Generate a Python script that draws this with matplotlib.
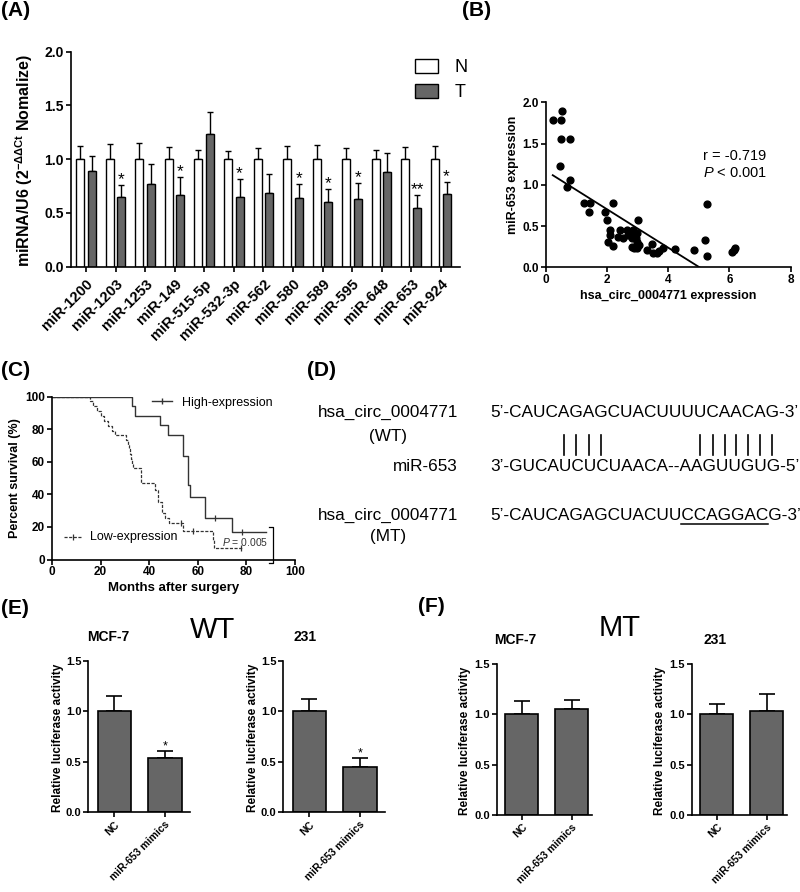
import matplotlib
matplotlib.use('Agg')
import matplotlib.pyplot as plt
from matplotlib.lines import Line2D
from matplotlib.patches import Patch
from matplotlib.font_manager import FontProperties
from matplotlib.ticker import FormatStrFormatter

plt.rcParams['font.family'] = ['Liberation Sans', 'DejaVu Sans']
plt.rcParams['mathtext.fontset'] = 'custom'
plt.rcParams['mathtext.rm'] = 'Liberation Sans'
plt.rcParams['mathtext.it'] = 'Liberation Sans:italic'
plt.rcParams['mathtext.bf'] = 'Liberation Sans:bold'
plt.rcParams['axes.linewidth'] = 1.2

W, H = 800, 892

############################################################
# (A) miRNA expression, N vs T
mirnas = ['miR-1200', 'miR-1203', 'miR-1253', 'miR-149', 'miR-515-5p', 'miR-532-3p',
          'miR-562', 'miR-580', 'miR-589', 'miR-595', 'miR-648', 'miR-653', 'miR-924']
n_mean = [1.0, 1.0, 1.0, 1.0, 1.0, 1.0, 1.0, 1.0, 1.0, 1.0, 1.0, 1.0, 1.0]
n_err = [0.12, 0.14, 0.15, 0.11, 0.09, 0.08, 0.10, 0.12, 0.13, 0.10, 0.09, 0.11, 0.12]
t_mean = [0.89, 0.65, 0.77, 0.67, 1.23, 0.65, 0.69, 0.64, 0.60, 0.63, 0.88, 0.55, 0.68]
t_err = [0.14, 0.11, 0.19, 0.16, 0.21, 0.17, 0.17, 0.13, 0.12, 0.15, 0.18, 0.12, 0.11]
t_sig = ['', '*', '', '*', '', '*', '', '*', '*', '*', '', '**', '*']

# (B) correlation scatter
circ_x = [0.23, 0.50, 0.53, 0.50, 0.79, 0.48, 0.79, 0.69, 1.25, 1.45, 1.41, 1.92, 2.19,
          2.00, 3.01, 2.10, 2.10, 2.02, 2.21, 2.43, 2.35, 2.54, 2.64, 2.70, 2.81, 2.86,
          2.89, 2.95, 2.97, 2.99, 2.88, 2.81, 3.06, 2.99, 3.30, 3.46, 3.49, 3.62, 3.71,
          3.82, 4.22, 4.85, 5.20, 5.28, 5.26, 6.07, 6.15, 6.18]
mir_y = [1.79, 1.79, 1.90, 1.56, 1.56, 1.23, 1.06, 0.97, 0.78, 0.78, 0.67, 0.67, 0.78,
         0.57, 0.57, 0.45, 0.39, 0.31, 0.26, 0.45, 0.37, 0.35, 0.45, 0.39, 0.35, 0.45,
         0.41, 0.36, 0.31, 0.23, 0.23, 0.25, 0.27, 0.41, 0.21, 0.28, 0.17, 0.17, 0.20,
         0.23, 0.22, 0.21, 0.33, 0.77, 0.14, 0.19, 0.21, 0.23]
fit_slope = -0.233
fit_intercept = 1.17
fit_range = [0.23, 5.03]

# (C) Kaplan-Meier
high_t = [0, 33, 34, 44.4, 47.8, 54, 56, 56.7, 62.9, 73.9, 88]
high_s = [100, 94.1, 88.2, 82.4, 76.5, 63.7, 45.6, 38.4, 25.2, 17, 17]
high_cens_t = [67, 78]
high_cens_s = [25.2, 17]
low_t = [0, 15.5, 17, 18.5, 20, 21.5, 23, 24.5, 25.8, 30.6, 31.1, 31.6, 32.0, 32.5,
         33.0, 33.4, 36.8, 42.3, 43.7, 45.1, 46.5, 48.0, 54.0, 66.1, 66.8, 78]
low_s = [100, 97, 94, 91, 88, 85, 82, 79, 76.3, 73.4, 70.5, 67.6, 64.7, 61.8, 58.8,
         55.9, 47, 42.5, 35.4, 28.3, 25.2, 22.1, 17.6, 11.8, 6.8, 6.8]
low_cens_t = [52.9, 58, 77.6]
low_cens_s = [22.1, 17.6, 6.8]

# (D) sequences
wt_seq = 'CAUCAGAGCUACUUUUCAACAG'
mir_seq = 'GUCAUCUCUAACA--AAGUUGUG'
mt_seq = 'CAUCAGAGCUACUUCCAGGACG'
pair_idx = [4, 5, 6, 7, 15, 16, 17, 18, 19, 20, 21]
mut_range = [14, 21]

# (E)/(F) luciferase
groups = ['NC', 'miR-653 mimics']
wt_mcf7 = [1.0, 0.54]
wt_mcf7_err = [0.15, 0.07]
wt_231 = [1.0, 0.445]
wt_231_err = [0.12, 0.095]
mt_mcf7 = [1.0, 1.053]
mt_mcf7_err = [0.13, 0.09]
mt_231 = [1.0, 1.036]
mt_231_err = [0.106, 0.17]

############################################################

def rect(l, t, r, b):
    return [l / W, 1 - b / H, (r - l) / W, (b - t) / H]

def prism(ax, fs):
    ax.spines['top'].set_visible(False)
    ax.spines['right'].set_visible(False)
    ax.tick_params(direction='out', length=3.5, width=1.2, labelsize=fs, pad=1.5)
    for lab in ax.get_xticklabels() + ax.get_yticklabels():
        lab.set_fontweight('bold')

fig = plt.figure(figsize=(W / 100, H / 100), dpi=100)

def label(x, y, s, **kw):
    fig.text(x / W, 1 - y / H, s, **kw)

############################################################
# (A)
axA = fig.add_axes(rect(71, 51.7, 460, 266.7))
xs = list(range(len(mirnas)))
xn = [x - 0.195 for x in xs]
xt = [x + 0.195 for x in xs]
axA.bar(xn, n_mean, width=0.27, color='white', edgecolor='black', linewidth=1.0, zorder=2)
axA.bar(xt, t_mean, width=0.27, color='#666666', edgecolor='black', linewidth=1.0, zorder=2)
axA.errorbar(xn, n_mean, yerr=[[0] * len(xs), n_err], fmt='none', ecolor='black',
             elinewidth=1.0, capsize=2.5, capthick=1.0, zorder=1)
axA.errorbar(xt, t_mean, yerr=[[0] * len(xs), t_err], fmt='none', ecolor='black',
             elinewidth=1.0, capsize=2.5, capthick=1.0, zorder=1)
for x, m, e, s in zip(xt, t_mean, t_err, t_sig):
    if s:
        axA.text(x, m + e - 0.02, s, ha='center', va='bottom', fontsize=12.5)
axA.set_xlim(-0.507, 12.65)
axA.set_ylim(0, 2.0)
axA.set_yticks([0, 0.5, 1.0, 1.5, 2.0])
axA.yaxis.set_major_formatter(FormatStrFormatter('%.1f'))
axA.set_xticks(xs)
axA.set_xticklabels(mirnas, rotation=45, ha='right', rotation_mode='anchor')
prism(axA, 10)
axA.tick_params(axis='x', labelsize=10.6, pad=4)
axA.set_ylabel(r'miRNA/U6 (2$^{\mathbf{-ΔΔCt}}$ Nomalize)', fontsize=11.5, fontweight='bold')
axA.yaxis.set_label_coords(-0.092, 0.496)
axA.legend(handles=[Patch(facecolor='white', edgecolor='black', linewidth=1.0, label='N'),
                    Patch(facecolor='#666666', edgecolor='black', linewidth=1.0, label='T')],
           loc='upper left', bbox_to_anchor=(0.865, 1.0), frameon=False, fontsize=13,
           handlelength=1.3, handleheight=0.8, handletextpad=0.9, labelspacing=0.45,
           borderaxespad=0)

############################################################
# (B)
axB = fig.add_axes(rect(545.7, 102.3, 790.7, 267.3))
axB.scatter(circ_x, mir_y, s=24, color='black', zorder=3, clip_on=False)
fx = fit_range
axB.plot(fx, [fit_slope * v + fit_intercept for v in fx], color='black', lw=1.3)
axB.set_xlim(0, 8)
axB.set_ylim(0, 2)
axB.set_xticks([0, 2, 4, 6, 8])
axB.set_yticks([0, 0.5, 1.0, 1.5, 2.0])
axB.yaxis.set_major_formatter(FormatStrFormatter('%.1f'))
prism(axB, 8.5)
axB.set_ylabel('miR-653 expression', fontsize=9, fontweight='bold')
axB.yaxis.set_label_coords(-0.109, 0.56)
axB.set_xlabel('hsa_circ_0004771 expression', fontsize=9, fontweight='bold')
axB.xaxis.set_label_coords(0.5, -0.14)
axB.text(0.643, 0.65, 'r = -0.719', transform=axB.transAxes, fontsize=10.5)
axB.text(0.643, 0.545, r'$P$ < 0.001', transform=axB.transAxes, fontsize=10.5)

############################################################
# (C)
axC = fig.add_axes(rect(52, 396.5, 295, 559.5))
axC.step(high_t, high_s, where='post', color='#333333', lw=1.0)
axC.step(low_t, low_s, where='post', color='#333333', lw=0.9, linestyle=(0, (2.5, 1.2)))
axC.plot(high_cens_t, high_cens_s, linestyle='none', marker='|', markersize=5,
         color='#333333', mew=0.9)
axC.plot(low_cens_t, low_cens_s, linestyle='none', marker='|', markersize=5,
         color='#333333', mew=0.9)
axC.set_xlim(0, 100)
axC.set_ylim(0, 100)
axC.set_xticks([0, 20, 40, 60, 80, 100])
axC.set_yticks([0, 20, 40, 60, 80, 100])
prism(axC, 8.5)
axC.set_ylabel('Percent survival (%)', fontsize=9, fontweight='bold')
axC.yaxis.set_label_coords(-0.128, 0.5)
axC.set_xlabel('Months after surgery', fontsize=9.5, fontweight='bold')
axC.xaxis.set_label_coords(0.5, -0.14)
# legend entries
h1 = Line2D([], [], color='#333333', lw=1.0, marker='|', markersize=5, markevery=[1],
            label='High-expression')
axC.legend(handles=[h1], loc='upper left', bbox_to_anchor=(0.39, 1.03), frameon=False,
           fontsize=9, handlelength=1.6, handletextpad=0.8, borderaxespad=0)
axC.plot([0.05, 0.12], [0.135, 0.135], transform=axC.transAxes, color='#333333', lw=0.9,
         linestyle=(0, (2.5, 1.2)))
axC.plot([0.085], [0.135], transform=axC.transAxes, marker='|', markersize=5,
         color='#333333', mew=0.9)
axC.text(0.155, 0.135, 'Low-expression', transform=axC.transAxes, fontsize=9,
         va='center')
axC.text(0.70, 0.11, r'$P$ = 0.005', transform=axC.transAxes, fontsize=7.5,
         va='center', color='#333333')
axC.plot([89.3, 91, 91, 89.3], [20, 20, -2.4, -2.4], color='black', lw=0.9, clip_on=False)

############################################################
# (D)
seq_fp = FontProperties(family='Liberation Sans', size=12.4)
name_fs = 12.3
seq_x0 = 490
label(458, 412.7, 'hsa_circ_0004771', fontsize=name_fs, ha='right', va='center')
label(388, 436, '(WT)', fontsize=name_fs, ha='center', va='center')
label(458, 466.7, 'miR-653', fontsize=name_fs, ha='right', va='center')
label(458, 515, 'hsa_circ_0004771', fontsize=name_fs, ha='right', va='center')
label(388, 537, '(MT)', fontsize=name_fs, ha='center', va='center')
wt_text = '5’-' + wt_seq + '-3’'
mt_text = '5’-' + mt_seq + '-3’'
label(seq_x0, 412.7, wt_text, fontproperties=seq_fp, ha='left', va='center')
label(seq_x0, 466.7, '3’-' + mir_seq + '-5’', fontproperties=seq_fp, ha='left', va='center')
label(seq_x0, 515, mt_text, fontproperties=seq_fp, ha='left', va='center')

fig.canvas.draw()
renderer = fig.canvas.get_renderer()

def text_w(s):
    return renderer.get_text_width_height_descent(s, seq_fp, ismath=False)[0]

for i in pair_idx:
    xc = seq_x0 + text_w('5’-' + wt_seq[:i]) + text_w(wt_seq[i]) / 2
    fig.add_artist(Line2D([xc / W, xc / W], [1 - 435 / H, 1 - 455 / H],
                          transform=fig.transFigure, color='black', lw=1.2))
u0 = seq_x0 + text_w('5’-' + mt_seq[:mut_range[0]])
u1 = seq_x0 + text_w('5’-' + mt_seq[:mut_range[1]])
fig.add_artist(Line2D([u0 / W, u1 / W], [1 - 523.5 / H, 1 - 523.5 / H],
                      transform=fig.transFigure, color='black', lw=1.1))

############################################################
# (E) / (F)

def luc(box, vals, errs, xlim, sig, ylab_x):
    ax = fig.add_axes(rect(*box))
    ax.bar([0, 1], vals, width=0.67, color='#666666', edgecolor='black', linewidth=1.2,
           zorder=2)
    ax.errorbar([0, 1], vals, yerr=[[0, 0], errs], fmt='none', ecolor='black',
                elinewidth=1.2, capsize=6, capthick=1.2, zorder=1)
    if sig:
        ax.text(1, vals[1] + errs[1] - 0.02, sig, ha='center', va='bottom', fontsize=9)
    ax.set_xlim(*xlim)
    ax.set_ylim(0, 1.5)
    ax.set_yticks([0, 0.5, 1.0, 1.5])
    ax.yaxis.set_major_formatter(FormatStrFormatter('%.1f'))
    ax.set_xticks([0, 1])
    ax.set_xticklabels(groups, rotation=45, ha='right', rotation_mode='anchor')
    prism(ax, 8)
    for lab in ax.get_xticklabels():
        lab.set_fontsize(7.5)
    ax.set_ylabel('Relative luciferase activity', fontsize=8.5, fontweight='bold')
    ax.yaxis.set_label_coords(ylab_x, 0.49)
    return ax

luc((88.3, 660.7, 190, 812.3), wt_mcf7, wt_mcf7_err, (-0.52, 1.5), '*', -0.24)
luc((283.3, 660.7, 385, 812.3), wt_231, wt_231_err, (-0.52, 1.5), '*', -0.24)
luc((496.7, 664, 591.7, 815), mt_mcf7, mt_mcf7_err, (-0.5, 1.4), '', -0.27)
luc((691.7, 664, 786.7, 815), mt_231, mt_231_err, (-0.5, 1.4), '', -0.27)

label(108, 637, 'MCF-7', fontsize=10, fontweight='bold', ha='center', va='center')
label(305, 637, '231', fontsize=10, fontweight='bold', ha='center', va='center')
label(515, 640, 'MCF-7', fontsize=10, fontweight='bold', ha='center', va='center')
label(715, 640, '231', fontsize=10, fontweight='bold', ha='center', va='center')
label(213, 630, 'WT', fontsize=21, ha='center', va='center')
label(620, 628, 'MT', fontsize=21, ha='center', va='center')

# panel letters
for x, y, s in [(1, 10, '(A)'), (462, 11, '(B)'), (1, 371, '(C)'), (307, 370, '(D)'),
                (1, 609, '(E)'), (418, 607, '(F)')]:
    label(x, y, s, fontsize=15, fontweight='bold', ha='left', va='center')

fig.savefig('out.png', dpi=100)
